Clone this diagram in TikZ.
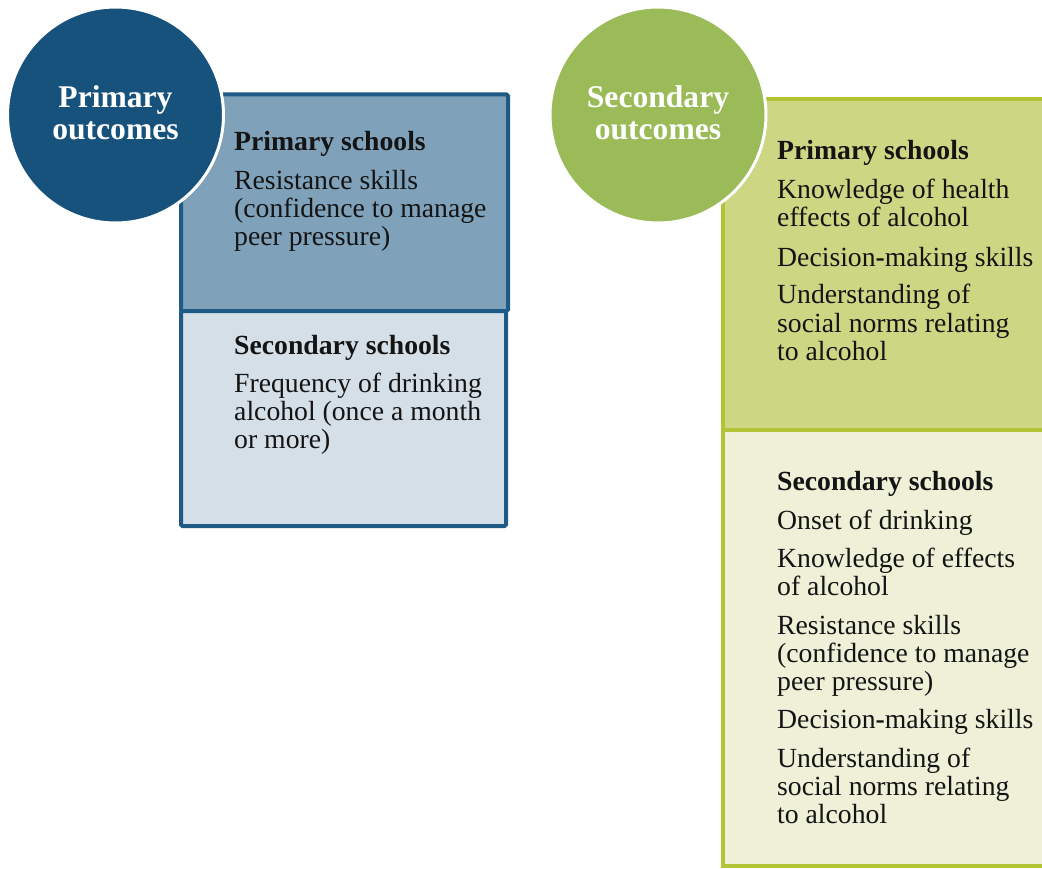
\documentclass[tikz,border=0pt]{standalone}
\usepackage{fontspec}
\setmainfont{Liberation Serif}
\definecolor{circblue}{HTML}{17527D}
\definecolor{blueline}{HTML}{1F5A86}
\definecolor{bluefill}{HTML}{7FA1BA}
\definecolor{bluelight}{HTML}{D5DFE8}
\definecolor{circgreen}{HTML}{9BBB59}
\definecolor{greenline}{HTML}{B2C336}
\definecolor{greenfill}{HTML}{CDD682}
\definecolor{greenlight}{HTML}{EEF0D7}
\definecolor{textblack}{HTML}{141414}
\newcommand{\bodyfnt}{\fontsize{27.7}{28}\selectfont}
\newcommand{\circfnt}{\fontsize{31.6}{32}\selectfont\bfseries}
\begin{document}
\begin{tikzpicture}[x=1pt,y=-1pt,
  txt/.style={anchor=base west,inner sep=0pt,font=\bodyfnt,text=textblack},
  hdr/.style={txt,font=\bodyfnt\bfseries},
  ctxt/.style={anchor=base,inner sep=0pt,font=\circfnt,text=white},
  bluebox/.style={draw=blueline,line width=4pt,rounded corners=1.5pt},
  greenbox/.style={draw=greenline,line width=3.5pt},
  ring/.style={draw=white,line width=3pt}]
\useasboundingbox (0,0) rectangle (1042,869);
% left boxes
\filldraw[bluebox,fill=bluefill] (181,94.5) rectangle (508,311);
\filldraw[bluebox,fill=bluelight] (181,311) rectangle (506,526);
% right boxes
\filldraw[greenbox,fill=greenfill] (723,99) rectangle (1060,430);
\filldraw[greenbox,fill=greenlight] (723,430) rectangle (1060,866);
% circles
\node[circle,ring,fill=circblue,minimum size=216pt,inner sep=0pt] (c1) at (115.5,115) {};
\node[circle,ring,fill=circgreen,minimum size=216pt,inner sep=0pt] (c2) at (658,115) {};
\node[ctxt] (c1a) at (115.5,108) {Primary};
\node[ctxt] (c1b) at (115.5,140) {outcomes};
\node[ctxt] (c2a) at (658,108) {Secondary};
\node[ctxt] (c2b) at (658,140) {outcomes};
% left top text
\node[hdr] (lt0) at (234,151) {Primary schools};
\node[txt] (lt1) at (234,190) {Resistance skills};
\node[txt] (lt2) at (234,218) {(confidence to manage};
\node[txt] (lt3) at (234,246) {peer pressure)};
% left bottom text
\node[hdr] (lb0) at (234,354) {Secondary schools};
\node[txt] (lb1) at (234,392) {Frequency of drinking};
\node[txt] (lb2) at (234,420) {alcohol (once a month};
\node[txt] (lb3) at (234,448) {or more)};
% right top text
\node[hdr] (rt0) at (777,160) {Primary schools};
\node[txt] (rt1) at (777,199) {Knowledge of health};
\node[txt] (rt2) at (777,227) {effects of alcohol};
\node[txt] (rt3) at (777,266) {Decision\textbf{-}making skills};
\node[txt] (rt4) at (777,304) {Understanding of};
\node[txt] (rt5) at (777,332) {social norms relating};
\node[txt] (rt6) at (777,360) {to alcohol};
% right bottom text
\node[hdr] (rb0) at (777,490.5) {Secondary schools};
\node[txt] (rb1) at (777,529) {Onset of drinking};
\node[txt] (rb2) at (777,567) {Knowledge of effects};
\node[txt] (rb3) at (777,595) {of alcohol};
\node[txt] (rb4) at (777,634) {Resistance skills};
\node[txt] (rb5) at (777,662) {(confidence to manage};
\node[txt] (rb6) at (777,690) {peer pressure)};
\node[txt] (rb7) at (777,728) {Decision\textbf{-}making skills};
\node[txt] (rb8) at (777,767) {Understanding of};
\node[txt] (rb9) at (777,795) {social norms relating};
\node[txt] (rb10) at (777,823) {to alcohol};
\end{tikzpicture}
\end{document}
